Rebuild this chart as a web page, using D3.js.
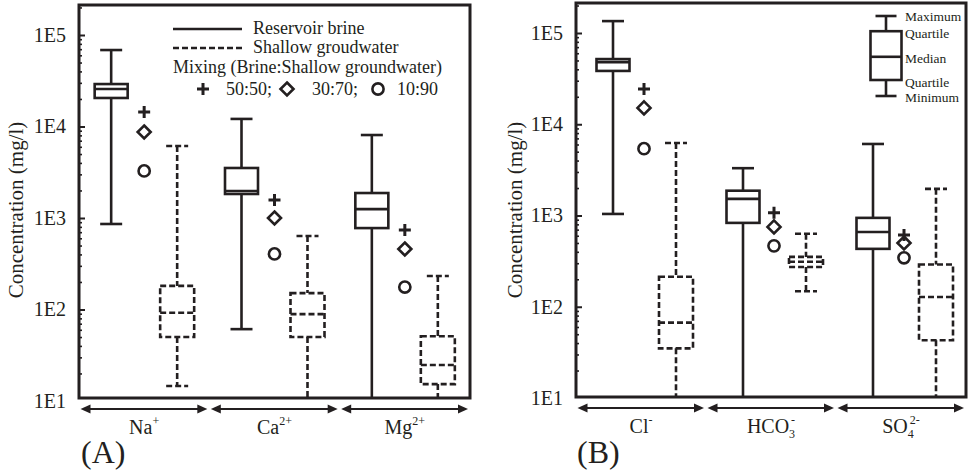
<!DOCTYPE html>
<html>
<head>
<meta charset="utf-8">
<script src="https://cdn.jsdelivr.net/npm/d3@7"></script>
<style>
  html, body { margin: 0; padding: 0; background: #ffffff; }
  svg, svg text { font-family: "Liberation Serif", "Tinos", "Times New Roman", "DejaVu Serif", serif !important; }
  svg { display: block; }
</style>
</head>
<body>
<svg id="chart" width="968" height="471"></svg>
<script>
// ---------------- data ----------------
const cationNames   = ["Na", "Ca", "Mg"];
const cationSubs    = ["", "", ""];
const cationCharges = ["+", "2+", "2+"];

const anionNames   = ["Cl", "HCO", "SO"];
const anionSubs    = ["", "3", "4"];
const anionCharges = ["-", "-", "2-"];

// box statistics: [minimum, lower quartile, median, upper quartile, maximum] in mg/l
const brineCations = [
  [860, 20500, 25700, 29100, 68500],
  [61, 1830, 1970, 3520, 12100],
  [10, 776, 1250, 1875, 8070]
];
const shallowCations = [
  [14.6, 50, 92, 181, 6120],
  [10, 50, 89, 151, 635],
  [10, 15.3, 24.7, 51, 232]
];
const brineAnions = [
  [1040, 38400, 48000, 51800, 135000],
  [10, 830, 1520, 1870, 3300],
  [10, 431, 660, 942, 6080]
];
const shallowAnions = [
  [10, 35, 67, 213, 6240],
  [148, 273, 311, 352, 630],
  [10, 43, 128, 290, 1960]
];

// mixing of brine with shallow groundwater
const mix5050Cations = [14400, 1570, 740];
const mix3070Cations = [8700, 1000, 458];
const mix1090Cations = [3270, 405, 176];
const mix5050Anions  = [24400, 1070, 612];
const mix3070Anions  = [15100, 750, 500];
const mix1090Anions  = [5400, 465, 344];

const yTickValues = [1e1, 1e2, 1e3, 1e4, 1e5];
const yTickLabels = ["1E1", "1E2", "1E3", "1E4", "1E5"];
const yAxisTitle = "Concentration (mg/l)";

const legendSeries = ["Reservoir brine", "Shallow groudwater"];
const legendMixTitle = "Mixing (Brine:Shallow groundwater)";
const legendMixLabels = ["50:50;", "30:70;", "10:90"];
const legendBoxLabels = ["Maximum", "Quartile", "Median", "Quartile", "Minimum"];
// explanatory glyph on a 0..1 key scale: [min, q1, median, q3, max]
const legendBoxStats = [0, 0.2, 0.49, 0.81, 1];

// ---------------- drawing ----------------
const INK = "#231f20";
const SERIF = '"Liberation Serif", "Tinos", "Times New Roman", "DejaVu Serif", serif';
const svg = d3.select("#chart").style("font-family", SERIF);

const minorTicks = [];
for (let e = 1; e < 5; e++) for (let m = 2; m <= 9; m++) minorTicks.push(m * Math.pow(10, e));
minorTicks.push(2e5);

function plus(g, x, y) {
  g.append("path").attr("d", `M${x-6},${y}H${x+6}M${x},${y-6}V${y+6}`)
    .attr("stroke", INK).attr("stroke-width", 3).attr("fill", "none");
}
function diamond(g, x, y) {
  g.append("path").attr("d", `M${x},${y-6.5}L${x+6.5},${y}L${x},${y+6.5}L${x-6.5},${y}Z`)
    .attr("stroke", INK).attr("stroke-width", 2.6).attr("fill", "none");
}
function ring(g, x, y) {
  g.append("circle").attr("cx", x).attr("cy", y).attr("r", 5.6)
    .attr("stroke", INK).attr("stroke-width", 2.6).attr("fill", "none");
}

function boxPlot(g, y, cx, s, dashed, boxW, capW) {
  const [mn, q1, md, q3, mx] = s;
  const dash = dashed ? "6,3" : null;
  const line = (x1, y1, x2, y2) => g.append("line")
    .attr("x1", x1).attr("y1", y1).attr("x2", x2).attr("y2", y2)
    .attr("stroke", INK).attr("stroke-width", 2.6).attr("stroke-dasharray", dash);
  line(cx, y(mx), cx, y(q3));
  line(cx, y(q1), cx, y(mn));
  line(cx - capW / 2, y(mx), cx + capW / 2, y(mx));
  line(cx - capW / 2, y(mn), cx + capW / 2, y(mn));
  g.append("rect").attr("x", cx - boxW / 2).attr("y", y(q3))
    .attr("width", boxW).attr("height", y(q1) - y(q3))
    .attr("fill", "none").attr("stroke", INK).attr("stroke-width", 2.6)
    .attr("stroke-dasharray", dash);
  line(cx - boxW / 2, y(md), cx + boxW / 2, y(md));
}

function txt(g) {
  return g.append("text").style("font-family", SERIF).attr("fill", INK);
}

function ionLabel(g, x, y, name, sub, charge) {
  const t = txt(g).attr("x", x).attr("y", y)
    .attr("text-anchor", "middle").attr("font-size", 20);
  t.append("tspan").text(name);
  if (sub) {
    t.append("tspan").attr("font-size", 12).attr("dy", 5).text(sub);
    t.append("tspan").attr("font-size", 12).attr("dx", -4).attr("dy", -14).text(charge);
  } else {
    t.append("tspan").attr("font-size", 12).attr("dy", -9).text(charge);
  }
}

function panel(cfg) {
  const g = svg.append("g");
  const y = d3.scaleLog().domain([10, 1e5]).range([cfg.y10, cfg.y1e5]);
  const x = d3.scaleBand().domain(cfg.names).range([cfg.left, cfg.right]);

  const clipId = "clip" + cfg.tag;
  svg.append("clipPath").attr("id", clipId).append("rect")
    .attr("x", cfg.left).attr("y", cfg.top)
    .attr("width", cfg.right - cfg.left).attr("height", cfg.bottom - cfg.top);

  const plot = g.append("g").attr("clip-path", `url(#${clipId})`);

  cfg.names.forEach((n, i) => {
    const c = x(n) + x.bandwidth() / 2;
    boxPlot(plot, y, c + cfg.brineOff, cfg.brine[i], false, 33, 22);
    boxPlot(plot, y, c + cfg.shallowOff, cfg.shallow[i], true, 34, 22);
    const mxp = c + cfg.mixOff;
    plus(plot, mxp, y(cfg.mix5050[i]));
    diamond(plot, mxp, y(cfg.mix3070[i]));
    ring(plot, mxp, y(cfg.mix1090[i]));
  });

  // y axis: major and minor ticks pointing into the plot
  const axMajor = d3.axisLeft(y).tickValues(yTickValues)
    .tickFormat((d, i) => yTickLabels[i]).tickSize(-6).tickPadding(13);
  const aG = g.append("g").attr("transform", `translate(${cfg.left},0)`).call(axMajor)
    .attr("font-family", null).style("font-family", SERIF);
  aG.select(".domain").remove();
  aG.selectAll(".tick line").attr("stroke", INK).attr("stroke-width", 2);
  aG.selectAll(".tick text").attr("font-size", 20).attr("fill", INK).style("font-family", SERIF);
  aG.selectAll(".tick").filter(d => y(d) > cfg.bottom).select("line").remove();

  const axMinor = d3.axisLeft(y).tickValues(minorTicks.filter(v => y(v) > cfg.top))
    .tickFormat("").tickSize(-3);
  const mG = g.append("g").attr("transform", `translate(${cfg.left},0)`).call(axMinor);
  mG.select(".domain").remove();
  mG.selectAll(".tick line").attr("stroke", INK).attr("stroke-width", 1.6);

  // frame
  g.append("rect").attr("x", cfg.left).attr("y", cfg.top)
    .attr("width", cfg.right - cfg.left).attr("height", cfg.bottom - cfg.top)
    .attr("fill", "none").attr("stroke", INK).attr("stroke-width", 3);

  // y title
  txt(g).attr("transform", `translate(${cfg.titleX},${cfg.titleY}) rotate(-90)`)
    .attr("text-anchor", "middle").attr("font-size", 21).text(yAxisTitle);

  // category arrows and ion labels
  const ay = cfg.bottom + 11;
  cfg.names.forEach((n, i) => {
    const x0 = x(n) + 1.5, x1 = x(n) + x.bandwidth() - 2;
    g.append("line").attr("x1", x0 + 6).attr("x2", x1 - 6).attr("y1", ay).attr("y2", ay)
      .attr("stroke", INK).attr("stroke-width", 2);
    g.append("path").attr("d", `M${x0},${ay}L${x0 + 10},${ay - 4.5}L${x0 + 10},${ay + 4.5}Z`).attr("fill", INK);
    g.append("path").attr("d", `M${x1},${ay}L${x1 - 10},${ay - 4.5}L${x1 - 10},${ay + 4.5}Z`).attr("fill", INK);
    ionLabel(g, x(n) + x.bandwidth() / 2, cfg.bottom + 36, n, cfg.subs[i], cfg.charges[i]);
  });

  txt(g).attr("x", cfg.letterX).attr("y", 463).attr("font-size", 32).text(cfg.letter);

  return { g, y };
}

const A = panel({
  tag: "A", names: cationNames, subs: cationSubs, charges: cationCharges,
  left: 79, right: 470, top: 5, bottom: 398, y10: 401, y1e5: 35,
  brineOff: -33, mixOff: 0, shallowOff: 33,
  brine: brineCations, shallow: shallowCations,
  mix5050: mix5050Cations, mix3070: mix3070Cations, mix1090: mix1090Cations,
  titleX: 23, titleY: 210, letter: "(A)", letterX: 81
});

const B = panel({
  tag: "B", names: anionNames, subs: anionSubs, charges: anionCharges,
  left: 576, right: 966, top: 3, bottom: 397, y10: 398, y1e5: 33,
  brineOff: -28, mixOff: 3, shallowOff: 35,
  brine: brineAnions, shallow: shallowAnions,
  mix5050: mix5050Anions, mix3070: mix3070Anions, mix1090: mix1090Anions,
  titleX: 522, titleY: 210, letter: "(B)", letterX: 577
});

// ---- legend, panel A ----
const lg = svg.append("g");
lg.append("line").attr("x1", 173).attr("x2", 242).attr("y1", 29).attr("y2", 29)
  .attr("stroke", INK).attr("stroke-width", 2.6);
lg.append("line").attr("x1", 173).attr("x2", 242).attr("y1", 48).attr("y2", 48)
  .attr("stroke", INK).attr("stroke-width", 2.6).attr("stroke-dasharray", "6,3");
txt(lg).attr("font-size", 18).attr("x", 253).attr("y", 34).text(legendSeries[0]);
txt(lg).attr("font-size", 18).attr("x", 253).attr("y", 53).text(legendSeries[1]);
txt(lg).attr("font-size", 18).attr("x", 173).attr("y", 73).text(legendMixTitle);
plus(lg, 203, 89);
diamond(lg, 287, 89);
ring(lg, 378, 89);
txt(lg).attr("font-size", 18).attr("x", 226).attr("y", 95).text(legendMixLabels[0]);
txt(lg).attr("font-size", 18).attr("x", 312).attr("y", 95).text(legendMixLabels[1]);
txt(lg).attr("font-size", 18).attr("x", 397).attr("y", 95).text(legendMixLabels[2]);

// ---- explanatory box glyph, panel B ----
const keyY = d3.scaleLinear().domain([0, 1]).range([96, 16]);
const kg = svg.append("g");
boxPlot(kg, keyY, 886, legendBoxStats, false, 31, 21);
const kLabelY = [16, 33, 58, 82, 97];
legendBoxLabels.forEach((t, i) => {
  txt(kg).attr("x", 905).attr("y", kLabelY[i]).attr("dy", "0.35em")
    .attr("font-size", 13.5).text(t);
});
</script>
</body>
</html>
